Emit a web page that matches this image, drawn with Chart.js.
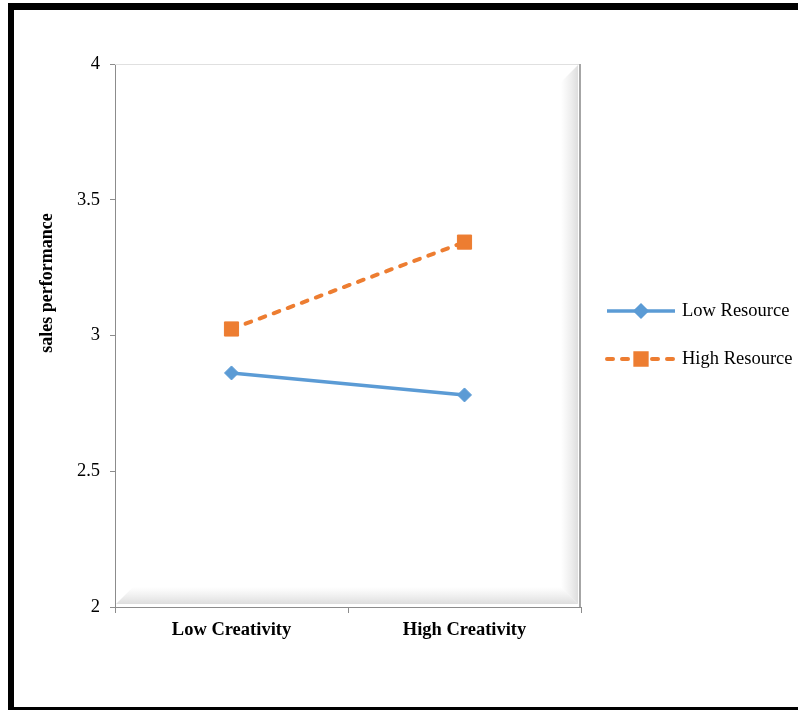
<!DOCTYPE html>
<html>
<head>
<meta charset="utf-8">
<title>sales performance</title>
<script src="https://cdn.jsdelivr.net/npm/chart.js@4/dist/chart.umd.min.js"></script>
<style>
  html, body { margin: 0; padding: 0; background: #ffffff; overflow: hidden; }
  #wrap { position: relative; width: 798px; height: 710px; overflow: hidden; background: #ffffff; }
  #c { position: absolute; left: 0; top: 0; }
  #frame {
    position: absolute; left: 8px; top: 3px; width: 900px; height: 710px;
    box-sizing: border-box; border: 6px solid #000; border-top-width: 7px;
    pointer-events: none;
  }
</style>
</head>
<body>
<div id="wrap">
  <canvas id="c" width="798" height="710"></canvas>
  <div id="frame"></div>
</div>
<script>
// Interaction means: sales performance by creativity level, split by resource level
const categories = ['Low Creativity', 'High Creativity'];
const lowResource = [2.862, 2.781];
const highResource = [3.024, 3.344];
const seriesNames = ['Low Resource', 'High Resource'];
const yTicks = [2, 2.5, 3, 3.5, 4];
const yTitle = 'sales performance';

const BLUE = '#5B9BD5';
const ORANGE = '#ED7D31';
const AXIS_GREY = '#8c8c8c';
const SERIF = '"Liberation Serif", "Times New Roman", serif';

// Soft bevel shading inside the plotting area (right and bottom edges)
const bevelPlugin = {
  id: 'bevel',
  beforeDatasetsDraw(chart) {
    const { ctx, chartArea: a } = chart;
    const w = 20;
    ctx.save();
    ctx.strokeStyle = '#e0e0e0';
    ctx.lineWidth = 1;
    ctx.beginPath();
    ctx.moveTo(a.left, a.top + 0.5);
    ctx.lineTo(a.right, a.top + 0.5);
    ctx.stroke();
    let g = ctx.createLinearGradient(a.right - w, 0, a.right - 3, 0);
    g.addColorStop(0, 'rgba(215,215,215,0)');
    g.addColorStop(1, 'rgba(200,200,200,0.6)');
    ctx.fillStyle = g;
    ctx.beginPath();
    ctx.moveTo(a.right - w, a.top + w - 2);
    ctx.lineTo(a.right - 3, a.top + 1);
    ctx.lineTo(a.right - 3, a.bottom - 3);
    ctx.lineTo(a.right - w, a.bottom - w);
    ctx.closePath();
    ctx.fill();
    g = ctx.createLinearGradient(0, a.bottom - w, 0, a.bottom - 3);
    g.addColorStop(0, 'rgba(215,215,215,0)');
    g.addColorStop(1, 'rgba(200,200,200,0.6)');
    ctx.fillStyle = g;
    ctx.beginPath();
    ctx.moveTo(a.left + 1, a.bottom - 3);
    ctx.lineTo(a.left + w - 2, a.bottom - w);
    ctx.lineTo(a.right - w, a.bottom - w);
    ctx.lineTo(a.right - 3, a.bottom - 3);
    ctx.closePath();
    ctx.fill();
    ctx.strokeStyle = '#a6a6a6';
    ctx.lineWidth = 2;
    ctx.beginPath();
    ctx.moveTo(a.right - 1, a.top);
    ctx.lineTo(a.right - 1, a.bottom);
    ctx.stroke();
    ctx.restore();
  }
};

// Vertical axis title, set a little above the middle of the value axis
const axisTitle = {
  id: 'axisTitle',
  afterDraw(chart) {
    const { ctx } = chart;
    ctx.save();
    ctx.translate(47, 283);
    ctx.rotate(-Math.PI / 2);
    ctx.font = 'bold 18px ' + SERIF;
    ctx.fillStyle = '#000';
    ctx.textAlign = 'center';
    ctx.textBaseline = 'middle';
    ctx.fillText(yTitle, 0, 0);
    ctx.restore();
  }
};

// Legend with line + marker samples, drawn to the right of the plot
const sideLegend = {
  id: 'sideLegend',
  afterDraw(chart) {
    const { ctx } = chart;
    const x0 = 607, x1 = 675, textX = 682;
    const rows = [311, 359];
    ctx.save();
    chart.data.datasets.forEach((ds, i) => {
      const y = rows[i];
      ctx.strokeStyle = ds.borderColor;
      ctx.lineWidth = ds.borderWidth;
      ctx.lineCap = ds.borderCapStyle || 'butt';
      ctx.setLineDash(ds.borderDash || []);
      ctx.beginPath();
      ctx.moveTo(x0, y);
      ctx.lineTo(x1, y);
      ctx.stroke();
      ctx.setLineDash([]);
      Chart.helpers.drawPoint(ctx, {
        pointStyle: ds.pointStyle,
        radius: ds.pointRadius * 0.8,
        borderWidth: 1
      }, (x0 + x1) / 2, y);
      ctx.fillStyle = ds.pointBackgroundColor;
      ctx.fill();
      ctx.fillStyle = '#000';
      ctx.font = '18.5px ' + SERIF;
      ctx.textBaseline = 'middle';
      ctx.textAlign = 'left';
      ctx.fillText(ds.label, textX, y);
    });
    ctx.restore();
  }
};

new Chart(document.getElementById('c'), {
  type: 'line',
  data: {
    labels: categories,
    datasets: [
      {
        label: seriesNames[0],
        data: lowResource,
        borderColor: BLUE,
        backgroundColor: BLUE,
        borderWidth: 3.5,
        pointStyle: 'rectRot',
        pointRadius: 7,
        pointBackgroundColor: BLUE,
        pointBorderColor: BLUE,
        pointBorderWidth: 1,
        tension: 0
      },
      {
        label: seriesNames[1],
        data: highResource,
        borderColor: ORANGE,
        backgroundColor: ORANGE,
        borderWidth: 4,
        borderDash: [6, 9],
        borderCapStyle: 'round',
        pointStyle: 'rect',
        pointRadius: 10,
        pointBackgroundColor: ORANGE,
        pointBorderColor: ORANGE,
        pointBorderWidth: 1,
        tension: 0
      }
    ]
  },
  options: {
    responsive: false,
    animation: false,
    layout: { padding: { left: 0, top: 64, right: 217, bottom: 53 } },
    plugins: {
      legend: { display: false },
      tooltip: { enabled: false }
    },
    scales: {
      x: {
        type: 'category',
        offset: true,
        grid: {
          offset: true,
          drawOnChartArea: false,
          drawTicks: true,
          tickLength: 6,
          color: AXIS_GREY,
          lineWidth: 1
        },
        border: { color: AXIS_GREY, width: 1 },
        ticks: {
          color: '#000',
          padding: 6,
          maxRotation: 0,
          font: { family: SERIF, size: 18.5, weight: 'bold' }
        },
        afterFit(scale) { scale.height = 50; }
      },
      y: {
        min: 2,
        max: 4,
        afterBuildTicks(scale) { scale.ticks = yTicks.map(v => ({ value: v })); },
        grid: {
          drawOnChartArea: false,
          drawTicks: true,
          tickLength: 5,
          color: AXIS_GREY
        },
        border: { color: AXIS_GREY, width: 1 },
        ticks: {
          color: '#000',
          padding: 10,
          font: { family: SERIF, size: 18.5 },
          callback: (v) => String(v)
        },
        afterFit(scale) { scale.width = 115; }
      }
    }
  },
  plugins: [bevelPlugin, axisTitle, sideLegend]
});
</script>
</body>
</html>
